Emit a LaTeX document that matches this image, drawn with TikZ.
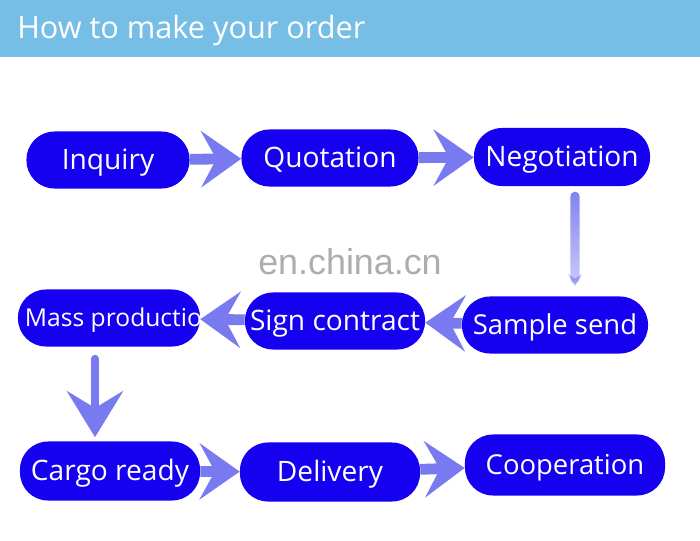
\documentclass[tikz,border=0pt]{standalone}
\usepackage{fontspec}
\setsansfont{Open Sans}
\newfontfamily\wmfont{Liberation Sans}
\usepackage{xcolor}
\usepackage{tikz}
\usetikzlibrary{arrows.meta, fadings}

\definecolor{bannerblue}{RGB}{118,190,230}
\definecolor{stepblue}{RGB}{22,0,240}
\definecolor{arrowblue}{RGB}{122,122,240}

\tikzfading[name=halffade, top color=transparent!0, middle color=transparent!15, bottom color=transparent!70]

\begin{document}
\begin{tikzpicture}[
    x=0.025cm, y=-0.025cm,
    stepbox/.style={fill=stepblue, text=white, rounded corners=0.7cm,
      minimum width=4.45cm, minimum height=1.425cm, inner sep=0pt,
      text height=17pt, text depth=3pt,
      font=\sffamily\fontsize{20}{24}\selectfont},
    flow/.style={draw=arrowblue, line width=0.27cm,
      -{Stealth[length=1cm, width=1.4cm, inset=0.38cm]}},
    downflow/.style={draw=arrowblue, line width=0.2cm, line cap=round,
      -{Stealth[length=1.15cm, width=1.4cm, inset=0.42cm]}}
  ]
  \useasboundingbox (0,0) rectangle (700,541);
  \fill[bannerblue] (0,0) rectangle (700,57);
  \node[anchor=base west, inner sep=0pt, text=white,
    font=\sffamily\fontsize{21.8}{24}\selectfont] (title) at (17,38) {How to make your order};
  \node[text=black!32, font=\wmfont\fontsize{25.5}{28}\selectfont] (wm) at (350,262) {en.china.cn};

  % first row
  \node[stepbox, minimum width=4.075cm] (inq) at (108,160) {Inquiry};
  \node[stepbox, minimum width=4.425cm] (quo) at (330,158) {Quotation};
  \node[stepbox, minimum width=4.4cm, minimum height=1.45cm] (neg) at (562,157) {Negotiation};
  % second row
  \node[stepbox, minimum width=4.55cm, inner xsep=0.175cm, text height=15pt,
    font=\sffamily\fontsize{17.5}{20}\selectfont] (mass) at (109,318) {\makebox[4.2cm][l]{Mass production}};
  \node[stepbox, minimum width=4.5cm] (sign) at (335,321) {Sign contract};
  \node[stepbox, minimum width=4.65cm, font=\sffamily\fontsize{19.5}{23}\selectfont] (samp) at (555,325) {Sample send};
  % third row
  \node[stepbox, minimum width=4.5cm, minimum height=1.475cm] (cargo) at (110,471) {Cargo ready};
  \node[stepbox, minimum width=4.5cm, minimum height=1.475cm] (deliv) at (330,472) {Delivery};
  \node[stepbox, minimum width=5cm, minimum height=1.525cm,
    font=\sffamily\fontsize{19.5}{23}\selectfont] (coop) at (565,465) {Cooperation};

  \draw[flow] (inq) -- (quo);
  \draw[flow] (quo) -- (neg);
  \draw[arrowblue, line width=0.23cm, line cap=round, path fading=halffade,
    shorten <=0.25cm, shorten >=0.25cm, -{Stealth[length=0.3cm, width=0.35cm]}]
    ([xshift=0.325cm]neg.south) -- ([xshift=0.5cm]samp.north);
  \draw[flow] (samp) -- (sign);
  \draw[flow] (sign) -- (mass);
  \draw[downflow, shorten <=0.3cm, shorten >=0.1cm]
    ([xshift=-0.35cm]mass.south) -- ([xshift=-0.375cm]cargo.north);
  \draw[flow] (cargo) -- (deliv);
  \draw[flow] (deliv) -- (coop);
\end{tikzpicture}
\end{document}
